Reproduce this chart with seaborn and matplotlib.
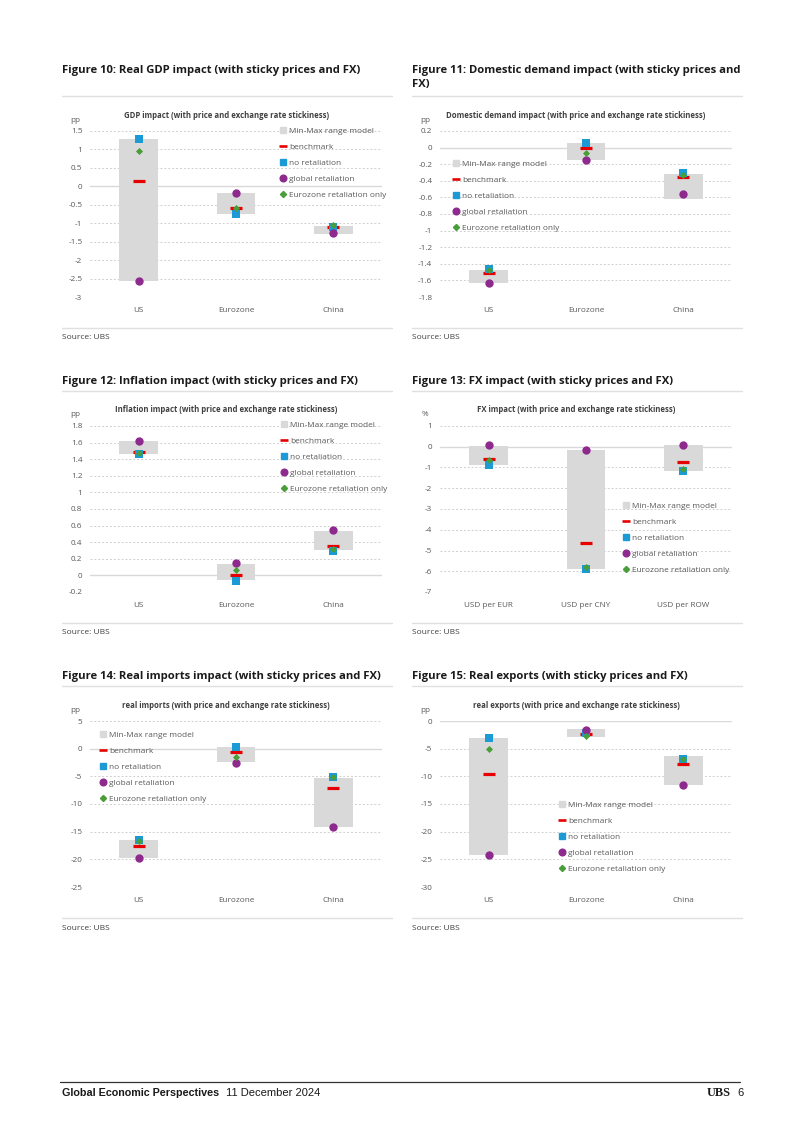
import matplotlib
matplotlib.use("Agg")
import matplotlib.pyplot as plt
import matplotlib.font_manager as fm
import numpy as np
import pandas as pd
import seaborn as sns
from matplotlib.lines import Line2D
from matplotlib.ticker import MultipleLocator, FuncFormatter

sns.set_theme(style="white")
plt.rcParams["font.family"] = ["Open Sans", "DejaVu Sans"]

# ---------------- data ----------------
regions = ["US", "Eurozone", "China"]
fx_pairs = ["USD per EUR", "USD per CNY", "USD per ROW"]
series_labels = ["Min-Max range model", "benchmark", "no retaliation",
                 "global retaliation", "Eurozone retaliation only"]

# Figure 10: real GDP
gdp_min = [-2.56, -0.75, -1.28]
gdp_max = [1.29, -0.19, -1.07]
gdp_bench = [0.15, -0.60, -1.10]
gdp_noret = [1.29, -0.76, -1.09]
gdp_global = [-2.56, -0.17, -1.27]
gdp_ez = [0.95, -0.60, -1.06]

# Figure 11: domestic demand
dd_min = [-1.63, -0.15, -0.62]
dd_max = [-1.47, 0.06, -0.32]
dd_bench = [-1.51, -0.01, -0.36]
dd_noret = [-1.46, 0.06, -0.31]
dd_global = [-1.63, -0.15, -0.56]
dd_ez = [-1.48, -0.06, -0.33]

# Figure 12: inflation
inf_min = [1.46, -0.06, 0.31]
inf_max = [1.62, 0.14, 0.54]
inf_bench = [1.49, 0.01, 0.35]
inf_noret = [1.46, -0.07, 0.30]
inf_global = [1.62, 0.15, 0.55]
inf_ez = [1.47, 0.06, 0.32]

# Figure 13: FX
fxi_min = [-0.89, -5.87, -1.19]
fxi_max = [0.06, -0.15, 0.07]
fxi_bench = [-0.57, -4.63, -0.73]
fxi_noret = [-0.90, -5.88, -1.19]
fxi_global = [0.07, -0.15, 0.10]
fxi_ez = [-0.62, -5.78, -1.06]

# Figure 14: real imports
imp_min = [-19.8, -2.44, -14.2]
imp_max = [-16.5, 0.26, -5.3]
imp_bench = [-17.5, -0.64, -7.1]
imp_noret = [-16.5, 0.38, -5.2]
imp_global = [-19.8, -2.5, -14.1]
imp_ez = [-16.7, -1.54, -5.2]

# Figure 15: real exports
exp_min = [-24.2, -2.9, -11.5]
exp_max = [-3.1, -1.5, -6.4]
exp_bench = [-9.5, -2.4, -7.7]
exp_noret = [-3.1, -2.2, -6.8]
exp_global = [-24.2, -1.7, -11.5]
exp_ez = [-5.1, -2.8, -6.9]

# ---------------- style ----------------
W, H = 802, 1134
C_RANGE = "#d9d9d9"
C_BENCH = "#e60000"
C_NORET = "#1c9ad6"
C_GLOBAL = "#8e2a8e"
C_EZ = "#4a9e3a"
C_TICK = "#595959"
C_TEXT = "#1a1a1a"
C_SUB = "#404040"

fig = plt.figure(figsize=(W / 100, H / 100), dpi=100)
renderer = fig.canvas.get_renderer()


def fx(x):
    return x / W


def fy(y):
    return 1 - y / H


def fit_size(s, target, **kw):
    t = fig.text(0, 0, s, fontsize=10, **kw)
    w = t.get_window_extent(renderer).width
    t.remove()
    return 10 * target / w


title_fs = fit_size("Figure 10: Real GDP impact (with sticky prices and FX)", 300, fontweight="bold")
inner_fs = fit_size("GDP impact (with price and exchange rate stickiness)", 204, fontweight="bold")
tick_fs = fit_size("Eurozone", 36)
legend_fs = fit_size("Eurozone retaliation only", 96)
source_fs = fit_size("Source: UBS", 47)


def fmt(v, pos):
    if abs(v) < 1e-9:
        return "0"
    return f"{round(v, 6):g}"


panels = [
    dict(title=["Figure 10: Real GDP impact (with sticky prices and FX)"],
         inner="GDP impact (with price and exchange rate stickiness)", unit="pp",
         cats=regions, lo=gdp_min, hi=gdp_max, bench=gdp_bench, noret=gdp_noret,
         glob=gdp_global, ez=gdp_ez, ylim=(-3, 1.5), step=0.5, col=0, row=0, leg=(283, 130)),
    dict(title=["Figure 11: Domestic demand impact (with sticky prices and", "FX)"],
         inner="Domestic demand impact (with price and exchange rate stickiness)", unit="pp",
         cats=regions, lo=dd_min, hi=dd_max, bench=dd_bench, noret=dd_noret,
         glob=dd_global, ez=dd_ez, ylim=(-1.8, 0.2), step=0.2, col=1, row=0, leg=(456, 163)),
    dict(title=["Figure 12: Inflation impact (with sticky prices and FX)"],
         inner="Inflation impact (with price and exchange rate stickiness)", unit="pp",
         cats=regions, lo=inf_min, hi=inf_max, bench=inf_bench, noret=inf_noret,
         glob=inf_global, ez=inf_ez, ylim=(-0.2, 1.8), step=0.2, col=0, row=1, leg=(284, 424)),
    dict(title=["Figure 13: FX impact (with sticky prices and FX)"],
         inner="FX impact (with price and exchange rate stickiness)", unit="%",
         cats=fx_pairs, lo=fxi_min, hi=fxi_max, bench=fxi_bench, noret=fxi_noret,
         glob=fxi_global, ez=fxi_ez, ylim=(-7, 1), step=1, col=1, row=1, leg=(626, 505)),
    dict(title=["Figure 14: Real imports impact (with sticky prices and FX)"],
         inner="real imports (with price and exchange rate stickiness)", unit="pp",
         cats=regions, lo=imp_min, hi=imp_max, bench=imp_bench, noret=imp_noret,
         glob=imp_global, ez=imp_ez, ylim=(-25, 5), step=5, col=0, row=2, leg=(103, 734)),
    dict(title=["Figure 15: Real exports (with sticky prices and FX)"],
         inner="real exports (with price and exchange rate stickiness)", unit="pp",
         cats=regions, lo=exp_min, hi=exp_max, bench=exp_bench, noret=exp_noret,
         glob=exp_global, ez=exp_ez, ylim=(-30, 0), step=5, col=1, row=2, leg=(562, 804)),
]

col_x = [90, 440]
col_box = [62, 412]
row_y = [131, 426, 721]
title_y = [70, 381, 676]
sep_y = [96, 391, 686]
src_line_y = [328, 623, 918]
src_y = [338, 633, 928]
ax_w, ax_h = 292, 166

marker_specs = [("bench", "_", 70, C_BENCH, 2.3),
                ("noret", "s", 27, C_NORET, 0),
                ("glob", "o", 36, C_GLOBAL, 0),
                ("ez", "D", 13, C_EZ, 0)]

for p in panels:
    c, r = p["col"], p["row"]
    x0, y0 = col_x[c], row_y[r]
    ax = fig.add_axes([fx(x0), fy(y0 + ax_h), ax_w / W, ax_h / H])
    df = pd.DataFrame({"cat": p["cats"], "lo": p["lo"], "hi": p["hi"],
                       "bench": p["bench"], "noret": p["noret"],
                       "glob": p["glob"], "ez": p["ez"]})
    df["span"] = df["hi"] - df["lo"]
    sns.barplot(data=df, x="cat", y="span", bottom=df["lo"].to_numpy(),
                color=C_RANGE, saturation=1, width=0.4, errorbar=None,
                linewidth=0, ax=ax, zorder=1)
    for key, mk, size, colr, lw in marker_specs:
        sns.scatterplot(data=df, x="cat", y=key, marker=mk, s=size, color=colr,
                        linewidth=lw, legend=False, ax=ax, zorder=3)
    ax.set_xlim(-0.5, 2.5)
    ax.set_ylim(*p["ylim"])
    ax.yaxis.set_major_locator(MultipleLocator(p["step"]))
    ax.yaxis.set_major_formatter(FuncFormatter(fmt))
    ax.set_xlabel("")
    ax.set_ylabel("")
    for s in ax.spines.values():
        s.set_visible(False)
    ax.yaxis.grid(True, color="#cfcfcf", linestyle=(0, (2, 2)), linewidth=0.7)
    ax.xaxis.grid(False)
    ax.set_axisbelow(True)
    ax.axhline(0, color="#d9d9d9", linewidth=1.0, zorder=0.8)
    ax.tick_params(axis="both", length=0, labelsize=tick_fs, labelcolor=C_TICK)
    ax.tick_params(axis="y", pad=5.5)
    ax.tick_params(axis="x", pad=7.5)

    # legend
    handles = [Line2D([], [], ls="none", marker="s", ms=3.8, color=C_RANGE),
               Line2D([], [], ls="none", marker="_", ms=5.8, mew=1.9, color=C_BENCH),
               Line2D([], [], ls="none", marker="s", ms=4.3, color=C_NORET),
               Line2D([], [], ls="none", marker="o", ms=4.8, color=C_GLOBAL),
               Line2D([], [], ls="none", marker="D", ms=3.1, color=C_EZ)]
    lx, ly = p["leg"]
    hl = 0.8
    leg_px = legend_fs * 100 / 72
    ax.legend(handles, series_labels, loc="upper left",
              bbox_to_anchor=(fx(lx - hl * leg_px / 2), fy(ly - 0.62 * leg_px + 2)),
              bbox_transform=fig.transFigure, frameon=False, fontsize=legend_fs,
              handlelength=hl, handletextpad=0.35, labelspacing=1.0,
              borderpad=0, borderaxespad=0, labelcolor=C_TICK)

    # texts
    bx = col_box[c]
    for i, line in enumerate(p["title"]):
        fig.text(fx(bx), fy(title_y[r] + 15 * i), line, fontsize=title_fs,
                 fontweight="bold", color=C_TEXT, va="center", ha="left")
    fig.add_artist(Line2D([fx(bx), fx(bx + 330)], [fy(sep_y[r])] * 2,
                          color="#e0e0e0", lw=1.0))
    fig.add_artist(Line2D([fx(bx), fx(bx + 330)], [fy(src_line_y[r])] * 2,
                          color="#e0e0e0", lw=1.0))
    fig.text(fx(bx), fy(src_y[r]), "Source: UBS", fontsize=source_fs,
             color=C_SUB, va="center", ha="left")
    fig.text(fx(bx + 164), fy(y0 - 16), p["inner"], fontsize=inner_fs,
             fontweight="bold", color=C_SUB, va="center", ha="center")
    fig.text(fx(x0 - 15), fy(y0 - 11), p["unit"], fontsize=tick_fs,
             color=C_TICK, va="center", ha="center")

# ---------------- footer ----------------
names = {f.name for f in fm.fontManager.ttflist}
narrow = "Liberation Sans Narrow" if "Liberation Sans Narrow" in names else "Liberation Sans"
fig.add_artist(Line2D([fx(60), fx(740)], [fy(1082)] * 2, color="#333333", lw=0.9))
f1 = fit_size("Global Economic Perspectives", 157, family=[narrow], fontweight="bold")
fig.text(fx(62), fy(1093), "Global Economic Perspectives", family=[narrow],
         fontweight="bold", fontsize=f1, color=C_TEXT, va="center", ha="left")
f2 = fit_size("11 December 2024", 94, family=[narrow])
fig.text(fx(226), fy(1093), "11 December 2024", family=[narrow],
         fontsize=f2, color=C_TEXT, va="center", ha="left")
fig.text(fx(707), fy(1093), "UBS", family=["Liberation Serif"], fontweight="bold",
         fontsize=f2 * 1.1, color=C_TEXT, va="center", ha="left")
fig.text(fx(737), fy(1093), "6", family=[narrow], fontsize=f2,
         color=C_TEXT, va="center", ha="left")

fig.savefig("out.png", dpi=100, facecolor="white")
